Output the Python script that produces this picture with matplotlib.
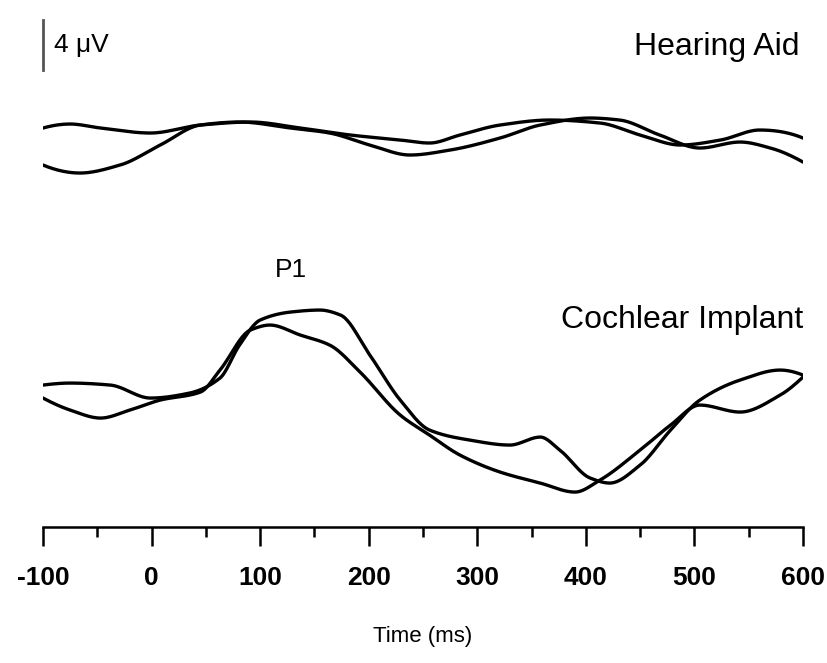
import numpy as np
import matplotlib.pyplot as plt
from matplotlib import font_manager

# amplitudes in display units: 50 units = 4 uV
ha_a_t = [-100, -75, -47, -1, 45, 91, 137, 183, 229, 256, 284, 321, 367, 413, 450, 487, 524, 560, 600]
ha_a_y = [472, 476, 472, 467, 475, 478, 472, 465, 460, 457, 465, 475, 480, 477, 465, 455, 460, 470, 462]
ha_b_t = [-100, -66, -29, 8, 45, 81, 128, 164, 201, 238, 275, 321, 358, 404, 431, 468, 505, 542, 570, 600]
ha_b_y = [435, 427, 435, 455, 475, 478, 472, 467, 455, 445, 450, 462, 475, 482, 480, 465, 452, 458, 452, 438]
ci_a_t = [-100, -75, -38, -1, 35, 63, 81, 100, 128, 155, 174, 201, 229, 256, 293, 330, 358, 376, 404, 422, 450, 478, 505, 542, 579, 600]
ci_a_y = [215, 217, 215, 202, 207, 222, 255, 280, 288, 290, 285, 245, 200, 170, 160, 155, 163, 150, 122, 117, 135, 170, 200, 220, 230, 225]
ci_b_t = [-100, -75, -47, -20, 8, 45, 63, 91, 109, 137, 164, 192, 229, 256, 284, 321, 358, 390, 413, 450, 478, 505, 542, 579, 600]
ci_b_y = [202, 190, 182, 190, 200, 208, 230, 270, 275, 265, 255, 228, 185, 165, 145, 128, 117, 108, 120, 150, 175, 195, 188, 205, 223]
tick_vals = list(range(-100, 601, 100))
tick_labels = ['-100', '0', '100', '200', '300', '400', '500', '600']

names = {f.name for f in font_manager.fontManager.ttflist}
fam = 'Liberation Sans Narrow' if 'Liberation Sans Narrow' in names else 'Liberation Sans'
plt.rcParams['font.family'] = [fam, 'DejaVu Sans']


def smooth(t, y):
    t = np.asarray(t, float)
    y = np.asarray(y, float)
    try:
        from scipy.interpolate import PchipInterpolator
        tt = np.linspace(t[0], t[-1], 600)
        return tt, PchipInterpolator(t, y)(tt)
    except ImportError:
        return t, y


fig = plt.figure(figsize=(8.27, 6.63), dpi=100)
ax = fig.add_axes([0.052, 0.205, 0.919, 0.795])
for t, y in [(ha_a_t, ha_a_y), (ha_b_t, ha_b_y), (ci_a_t, ci_a_y), (ci_b_t, ci_b_y)]:
    tt, yy = smooth(t, y)
    ax.plot(tt, yy, color='black', lw=2.4)

ax.set_xlim(-100, 600)
ax.set_ylim(73, 600)
for s in ['top', 'right', 'left']:
    ax.spines[s].set_visible(False)
ax.spines['bottom'].set_linewidth(1.8)
ax.set_yticks([])
ax.set_xticks(tick_vals)
ax.set_xticklabels(tick_labels, fontweight='bold')
ax.set_xticks(range(-50, 601, 100), minor=True)
ax.tick_params(axis='x', which='major', length=14, width=1.8, labelsize=19, pad=14)
ax.tick_params(axis='x', which='minor', length=7, width=1.8)
ax.set_xlabel('Time (ms)', fontsize=16, labelpad=26)

# scale bar
ax.plot([-100, -100], [530, 580], color='#555555', lw=2, clip_on=False)
ax.text(-90, 555, '4 \u03bcV', fontsize=19, va='center')
ax.text(597, 553, 'Hearing Aid', fontsize=23, ha='right', va='center')
ax.text(600, 280, 'Cochlear Implant', fontsize=23, ha='right', va='center')
ax.text(128, 330, 'P1', fontsize=19, ha='center', va='center')

fig.savefig('out.png', dpi=100)
